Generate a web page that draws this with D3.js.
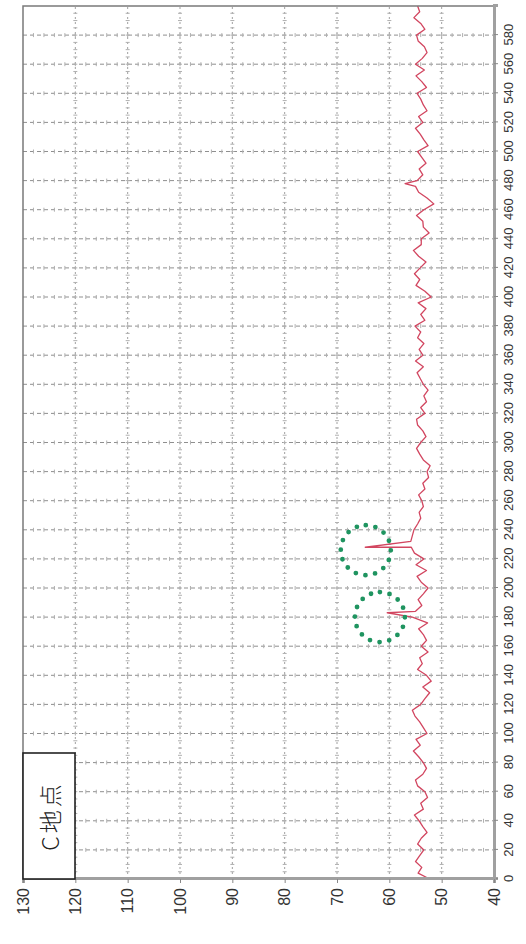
<!DOCTYPE html>
<html>
<head>
<meta charset="utf-8">
<script src="https://cdn.jsdelivr.net/npm/d3@7"></script>
<style>
  body { margin: 0; background: #fff; }
  svg { display: block; }
</style>
</head>
<body>
<script>
// ************************************************************************************
// DATA
// ************************************************************************************
var title = "C地点"

// level read every 4 s, from 0 to 600
var step = 4
var levels = [
  52.3, 54.5, 53.8, 55.0, 54.2, 53.4, 54.6, 53.9, 52.8, 53.6,
  54.3, 55.2, 53.5, 54.0, 52.7, 53.2, 54.6, 55.0, 53.6, 52.9,
  53.5, 54.4, 55.4, 54.1, 54.9, 52.8, 53.5, 54.2, 55.1, 55.6,
  54.0, 53.2, 52.3, 53.6, 52.0, 52.9, 54.6, 53.7, 54.2, 52.6,
  53.9, 52.9, 53.5, 54.4, 52.7, 55.6, 55.0, 53.8, 54.5, 53.5,
  52.6, 53.9, 54.7, 52.9, 54.9, 53.4, 55.2, 55.8, 55.9, 55.6,
  55.3, 54.6, 54.0, 54.3, 53.5, 53.8, 54.4, 53.2, 53.6, 52.5,
  52.8, 52.2, 53.5, 54.2, 54.8, 54.0, 53.0, 53.6, 54.6, 54.8,
  53.2, 54.0, 52.9, 53.4, 52.6, 53.5, 54.1, 54.7, 53.5, 55.0,
  53.6, 54.3, 53.4, 54.6, 54.0, 55.1, 53.2, 54.0, 53.0, 54.5,
  52.0, 53.2, 54.9, 54.2, 55.2, 54.1, 53.0, 54.4, 55.4, 53.9,
  53.9, 52.4, 53.5, 53.6, 54.8, 53.4, 51.5, 52.8, 54.4, 55.0,
  54.7, 53.6, 54.3, 53.0, 53.8, 54.6, 52.6, 53.4, 54.1, 55.0,
  53.6, 54.4, 52.8, 53.5, 54.0, 54.7, 52.9, 53.8, 54.9, 53.3,
  55.0, 53.7, 52.8, 53.3, 54.5, 54.8, 53.2, 54.0, 55.3, 54.2,
  54.6
]

// single sharp peaks between the 4 s readings
var peakTimes  = [183, 228, 478]
var peakLevels = [60.4, 64.6, 57.0]

// dotted green rings round the two peaks
var ringTimes  = [226, 180]
var ringLevels = [64.5, 61.8]

var timeTicks  = d3.range(0, 581, 20)
var levelTicks = d3.range(40, 131, 10)

// ************************************************************************************
// LAYOUT  (chart is drawn upright, then turned a quarter turn to the left)
// ************************************************************************************
var W = 873, H = 471
  , left = 23, bottom = 879

var points = levels.map(function (v, i) { return [i * step, v] })
peakTimes.forEach(function (t, i) { points.push([t, peakLevels[i]]) })
points.sort(function (a, b) { return a[0] - b[0] })

var x = d3.scaleLinear().domain([0, 600]).range([0, W])
  , y = d3.scaleLinear().domain([40, 130]).range([H, 0])

var svg = d3.select("body").append("svg")
    .attr("width", 526)
    .attr("height", 944)
    .style("font-family", "'Liberation Sans', Arial, sans-serif")

var g = svg.append("g")
    .attr("transform", "translate(" + left + "," + bottom + ") rotate(-90)")

// ************************************************************************************
// GRID
// ************************************************************************************
g.append("rect")
    .attr("width", W).attr("height", H)
    .attr("fill", "#fff")

g.append("g").selectAll("line")
    .data(timeTicks.filter(function (t) { return t > 0 }))
  .join("line")
    .attr("x1", function (d) { return x(d) }).attr("x2", function (d) { return x(d) })
    .attr("y1", 0).attr("y2", H)
    .attr("stroke", "#8f8f8f")
    .attr("stroke-width", 1)
    .attr("stroke-dasharray", "4,3")

g.append("g").selectAll("line")
    .data(levelTicks.filter(function (v) { return v > 40 && v < 130 }))
  .join("line")
    .attr("x1", 0).attr("x2", W)
    .attr("y1", function (d) { return y(d) }).attr("y2", function (d) { return y(d) })
    .attr("stroke", "#a0a0a0")
    .attr("stroke-width", 1)
    .attr("stroke-dasharray", "2,3")

// small cross marks along the grid
var minor = g.append("g").attr("stroke", "#b0b0b0").attr("stroke-width", 1)
levelTicks.filter(function (v) { return v > 40 && v < 130 }).forEach(function (v) {
  d3.range(5, 600, 5).forEach(function (t) {
    minor.append("line")
        .attr("x1", x(t)).attr("x2", x(t))
        .attr("y1", y(v) - 2).attr("y2", y(v) + 2)
  })
})
timeTicks.filter(function (t) { return t > 0 }).forEach(function (t) {
  d3.range(42, 130, 2).forEach(function (v) {
    minor.append("line")
        .attr("x1", x(t) - 2).attr("x2", x(t) + 2)
        .attr("y1", y(v)).attr("y2", y(v))
  })
})

// ************************************************************************************
// LINE
// ************************************************************************************
g.append("path")
    .datum(points)
    .attr("fill", "none")
    .attr("stroke", "#d24660")
    .attr("stroke-width", 1.3)
    .attr("stroke-linejoin", "round")
    .attr("d", d3.line()
      .x(function (d) { return x(d[0]) })
      .y(function (d) { return y(d[1]) }))

// ************************************************************************************
// FRAME + AXES
// ************************************************************************************
g.append("rect")
    .attr("width", W).attr("height", H)
    .attr("fill", "none")
    .attr("stroke", "#7a7a7a")
    .attr("stroke-width", 1.5)

var xAxis = g.append("g")
    .attr("transform", "translate(0," + H + ")")
    .call(d3.axisBottom(x).tickValues(timeTicks).tickSize(4).tickPadding(6))
xAxis.select(".domain").attr("stroke", "#a0a0a0").attr("stroke-width", 3)
xAxis.selectAll(".tick line").attr("stroke", "#888")
xAxis.selectAll("text")
    .attr("font-size", 13)
    .attr("fill", "#333")
    .attr("font-family", "'Liberation Sans', Arial, sans-serif")

var yAxis = g.append("g")
    .call(d3.axisLeft(y).tickValues(levelTicks).tickSize(4).tickPadding(5))
yAxis.select(".domain").attr("stroke", "#a0a0a0").attr("stroke-width", 3)
yAxis.selectAll(".tick line").attr("stroke", "#888")
yAxis.selectAll("text")
    .attr("font-size", 16)
    .attr("fill", "#333")
    .attr("font-family", "'Liberation Sans', Arial, sans-serif")

// ************************************************************************************
// RINGS + LABEL BOX
// ************************************************************************************
g.append("g").selectAll("circle")
    .data(ringTimes)
  .join("circle")
    .attr("cx", function (d) { return x(d) })
    .attr("cy", function (d, i) { return y(ringLevels[i]) })
    .attr("r", 25)
    .attr("fill", "none")
    .attr("stroke", "#1f9460")
    .attr("stroke-width", 4.8)
    .attr("stroke-linecap", "round")
    .attr("stroke-dasharray", "0,9.8")

var box = g.append("g")
box.append("rect")
    .attr("x", 0).attr("y", 0)
    .attr("width", 126).attr("height", 52)
    .attr("fill", "#fff")
    .attr("stroke", "#222")
    .attr("stroke-width", 1.6)
box.append("text")
    .attr("x", 63).attr("y", 26)
    .attr("text-anchor", "middle")
    .attr("dominant-baseline", "central")
    .attr("font-size", 23)
    .attr("letter-spacing", 3)
    .attr("fill", "#222")
    .style("font-family", "'Noto Sans CJK JP', sans-serif")
    .style("font-weight", 300)
    .text(title)
</script>
</body>
</html>
